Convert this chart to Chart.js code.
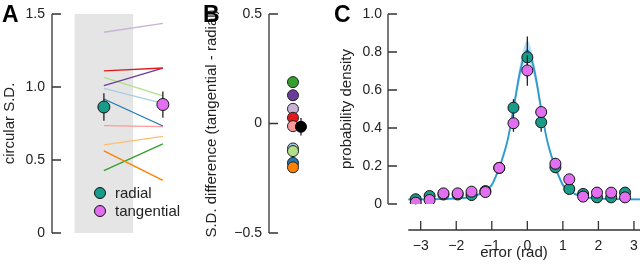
<!DOCTYPE html>
<html>
<head>
<meta charset="utf-8">
<script src="https://cdn.jsdelivr.net/npm/chart.js@4/dist/chart.umd.min.js"></script>
<style>
  body { margin:0; background:#fff; width:640px; height:267px; overflow:hidden; position:relative; }
  canvas { position:absolute; top:0; }
  .lbl { position:absolute; font-family:"Liberation Sans", Arial, sans-serif; font-weight:bold; font-size:23px; line-height:23px; color:#000; }
</style>
</head>
<body>
<canvas id="chartA" width="190" height="267" style="left:0px"></canvas>
<canvas id="chartB" width="120" height="267" style="left:190px"></canvas>
<canvas id="chartC" width="350" height="267" style="left:290px"></canvas>
<div class="lbl" style="left:2px;top:3px">A</div>
<div class="lbl" style="left:203px;top:3px">B</div>
<div class="lbl" style="left:334px;top:3px">C</div>
<script>
// ---- panel A : circular S.D. for each subject (radial -> tangential)
const pairColors   = ['#cab2d6','#e31a1c','#6a3d9a','#b2df8a','#a6cee3','#1f78b4','#fb9a99','#fdbf6f','#ff7f00','#33a02c'];
const radialSD     = [1.375, 1.11, 1.01, 1.066, 0.99, 0.918, 0.735, 0.603, 0.562, 0.427];
const tangentialSD = [1.436, 1.13, 1.13, 0.94, 0.888, 0.733, 0.728, 0.662, 0.361, 0.61];
const meanSD       = [0.863, 0.88];
const meanSDErr    = [0.095, 0.09];
const ticksA       = [0, 0.5, 1.0, 1.5];

// ---- panel B : S.D. difference per subject
const diffColors  = ['#33a02c','#6a3d9a','#cab2d6','#e31a1c','#fb9a99','#a6cee3','#b2df8a','#1f78b4','#ff7f00'];
const sdDiff      = [0.189, 0.129, 0.067, 0.026, -0.012, -0.114, -0.126, -0.18, -0.2];
const meanDiff    = -0.015;
const meanDiffErr = 0.04;
const ticksB      = [-0.5, 0, 0.5];

// ---- panel C : error distributions
const binCenters = [-3.14,-2.75,-2.36,-1.96,-1.57,-1.18,-0.79,-0.39,0,0.39,0.79,1.18,1.57,1.96,2.36,2.75];
const radialDens = [0.025,0.042,0.05,0.05,0.047,0.068,0.19,0.507,0.772,0.43,0.193,0.079,0.053,0.035,0.035,0.06];
const radialErr  = [0.01,0.01,0.01,0.01,0.01,0.012,0.025,0.045,0.11,0.05,0.03,0.015,0.01,0.01,0.01,0.01];
const tangDens   = [0.007,0.021,0.056,0.056,0.065,0.063,0.19,0.425,0.703,0.484,0.212,0.13,0.039,0.06,0.06,0.035];
const tangErr    = [0.01,0.01,0.01,0.01,0.01,0.012,0.025,0.045,0.08,0.025,0.03,0.02,0.01,0.01,0.01,0.01];
// fitted curve and its band
const fitX    = [-3.35,-2.5,-2,-1.5,-1.2,-1.0,-0.9,-0.79,-0.55,-0.39,-0.2,0,0.2,0.39,0.55,0.79,0.9,1.0,1.2,1.5,2,2.5,3.3];
const fitY    = [0.024,0.026,0.03,0.04,0.068,0.1,0.14,0.19,0.34,0.50,0.70,0.81,0.70,0.50,0.34,0.19,0.14,0.1,0.068,0.04,0.03,0.026,0.024];
const fitLow  = [0.019,0.021,0.025,0.034,0.06,0.09,0.128,0.175,0.32,0.47,0.66,0.76,0.66,0.47,0.32,0.175,0.128,0.09,0.06,0.034,0.025,0.021,0.019];
const fitHigh = [0.029,0.031,0.035,0.046,0.076,0.11,0.152,0.205,0.36,0.53,0.74,0.86,0.74,0.53,0.36,0.205,0.152,0.11,0.076,0.046,0.035,0.031,0.029];
const ticksCx = [-3,-2,-1,0,1,2,3];
const ticksCy = [0,0.2,0.4,0.6,0.8,1.0];

const teal = '#179c8a';
const magenta = '#e26ff2';
const fontFam = '"Liberation Sans", Arial, sans-serif';
const tickFont = { family: fontFam, size: 14 };
const titleFont = { family: fontFam, size: 15 };
const ink = '#222';

function fmtTick(v) {
  if (v === 0) return '0';
  return (v < 0 ? '\u2212' : '') + Math.abs(v).toFixed(1);
}
function fmtInt(v) {
  return (v < 0 ? '\u2212' : '') + Math.abs(v);
}

// vertical error bars, drawn under the markers
const errorBars = {
  id: 'errorBars',
  beforeDatasetDraw(chart, args) {
    const ds = chart.data.datasets[args.index];
    if (!ds.errors) return;
    const ctx = chart.ctx, x = chart.scales.x, y = chart.scales.y;
    ctx.save();
    ctx.strokeStyle = '#222';
    ctx.lineWidth = 1.3;
    ds.data.forEach((p, i) => {
      const px = x.getPixelForValue(p.x);
      ctx.beginPath();
      ctx.moveTo(px, y.getPixelForValue(p.y - ds.errors[i]));
      ctx.lineTo(px, y.getPixelForValue(p.y + ds.errors[i]));
      ctx.stroke();
    });
    ctx.restore();
  }
};

// axis lines with inward ticks (and a detached x axis for panel C)
const axesLines = {
  id: 'axesLines',
  afterDatasetsDraw(chart, args, opts) {
    const ctx = chart.ctx, area = chart.chartArea, x = chart.scales.x, y = chart.scales.y;
    const yt = opts.yTicks;
    ctx.save();
    ctx.strokeStyle = '#333';
    ctx.lineWidth = 1.3;
    ctx.beginPath();
    ctx.moveTo(area.left, y.getPixelForValue(yt[0]));
    ctx.lineTo(area.left, y.getPixelForValue(yt[yt.length - 1]));
    yt.forEach(v => {
      const py = y.getPixelForValue(v);
      ctx.moveTo(area.left, py);
      ctx.lineTo(area.left + opts.tick, py);
    });
    if (opts.xTicks) {
      const base = area.bottom + opts.xOffset;
      ctx.moveTo(x.getPixelForValue(opts.xStart), base);
      ctx.lineTo(area.right, base);
      opts.xTicks.forEach(v => {
        const px = x.getPixelForValue(v);
        ctx.moveTo(px, base);
        ctx.lineTo(px, base - opts.tick);
      });
    }
    ctx.stroke();
    ctx.restore();
  }
};

// little legend inside panel A
const legendA = {
  id: 'legendA',
  afterDraw(chart) {
    const ctx = chart.ctx;
    const items = [['radial', teal, 193], ['tangential', magenta, 211]];
    ctx.save();
    items.forEach(it => {
      ctx.beginPath();
      ctx.arc(100, it[2], 5.5, 0, Math.PI * 2);
      ctx.fillStyle = it[1];
      ctx.fill();
      ctx.lineWidth = 1;
      ctx.strokeStyle = '#111';
      ctx.stroke();
      ctx.fillStyle = ink;
      ctx.font = '15px ' + fontFam;
      ctx.textBaseline = 'middle';
      ctx.fillText(it[0], 115, it[2] + 1);
    });
    ctx.restore();
  }
};

function yScale(min, max, ticks, width, title, titlePad, tickLen) {
  return {
    type: 'linear', min: min, max: max,
    afterBuildTicks: s => { s.ticks = ticks.map(v => ({ value: v })); },
    afterFit: s => { s.width = width; },
    grid: { display: false, drawTicks: true, tickLength: tickLen },
    border: { display: false },
    ticks: { padding: 0, font: tickFont, color: ink, callback: fmtTick },
    title: { display: true, text: title, font: titleFont, color: ink, padding: { top: titlePad, bottom: 0 } }
  };
}

const baseOpts = {
  responsive: false,
  animation: false,
  events: []
};

// ---------- chart A
const dsA = [];
dsA.push({
  data: [{ x: 0.5, y: 1.5 }, { x: 1.5, y: 1.5 }],
  fill: 'origin', backgroundColor: '#e5e5e5', borderWidth: 0, pointRadius: 0, order: 30
});
pairColors.forEach((c, i) => {
  dsA.push({
    data: [{ x: 1, y: radialSD[i] }, { x: 2, y: tangentialSD[i] }],
    borderColor: c, borderWidth: 1.3, pointRadius: 0, fill: false, order: 20
  });
});
dsA.push({
  data: [{ x: 1, y: meanSD[0] }], errors: [meanSDErr[0]], showLine: false,
  pointRadius: 6, pointBackgroundColor: teal, pointBorderColor: '#111', pointBorderWidth: 1, order: 2
});
dsA.push({
  data: [{ x: 2, y: meanSD[1] }], errors: [meanSDErr[1]], showLine: false,
  pointRadius: 6, pointBackgroundColor: magenta, pointBorderColor: '#111', pointBorderWidth: 1, order: 1
});

new Chart(document.getElementById('chartA'), {
  type: 'line',
  data: { datasets: dsA },
  options: Object.assign({}, baseOpts, {
    layout: { autoPadding: false, padding: { top: 14, bottom: 34, left: 0, right: 0 } },
    plugins: { legend: { display: false }, tooltip: { enabled: false }, axesLines: { yTicks: ticksA, tick: 9 } },
    scales: {
      x: { type: 'linear', display: false, min: 0.12, max: 2.46 },
      y: yScale(0, 1.5, ticksA, 52, 'circular S.D.', 1, 7)
    }
  }),
  plugins: [errorBars, axesLines, legendA]
});

// ---------- chart B
new Chart(document.getElementById('chartB'), {
  type: 'line',
  data: {
    datasets: [{
      data: sdDiff.map(v => ({ x: 0.585, y: v })), showLine: false,
      pointRadius: 5.5, pointBackgroundColor: diffColors, pointBorderColor: '#222', pointBorderWidth: 1, order: 2
    }, {
      data: [{ x: 0.78, y: meanDiff }], errors: [meanDiffErr], showLine: false,
      pointRadius: 5.5, pointBackgroundColor: '#000', pointBorderColor: '#000', pointBorderWidth: 1, order: 1
    }]
  },
  options: Object.assign({}, baseOpts, {
    layout: { autoPadding: false, padding: { top: 14, bottom: 34, left: 0, right: 0 } },
    plugins: { legend: { display: false }, tooltip: { enabled: false }, axesLines: { yTicks: ticksB, tick: 9 } },
    scales: {
      x: { type: 'linear', display: false, min: 0, max: 1 },
      y: yScale(-0.5, 0.5, ticksB, 79, 'S.D. difference (tangential - radial)', 13, 7)
    }
  }),
  plugins: [errorBars, axesLines]
});

// ---------- chart C
const yC = yScale(0, 1.0, ticksCy, 98, 'probability density', 48, 6);
new Chart(document.getElementById('chartC'), {
  type: 'line',
  data: {
    datasets: [{
      data: fitX.map((x, i) => ({ x: x, y: fitLow[i] })),
      borderWidth: 0, pointRadius: 0, fill: false, cubicInterpolationMode: 'monotone', order: 10
    }, {
      data: fitX.map((x, i) => ({ x: x, y: fitHigh[i] })),
      borderWidth: 0, pointRadius: 0, fill: '-1', backgroundColor: 'rgba(120,190,225,0.5)',
      cubicInterpolationMode: 'monotone', order: 9
    }, {
      data: fitX.map((x, i) => ({ x: x, y: fitY[i] })),
      borderColor: '#2f9ad0', borderWidth: 1.8, pointRadius: 0, fill: false,
      cubicInterpolationMode: 'monotone', order: 5
    }, {
      data: binCenters.map((x, i) => ({ x: x, y: radialDens[i] })), errors: radialErr, showLine: false,
      pointRadius: 5.5, pointBackgroundColor: teal, pointBorderColor: '#111', pointBorderWidth: 1, order: 2
    }, {
      data: binCenters.map((x, i) => ({ x: x, y: tangDens[i] })), errors: tangErr, showLine: false,
      pointRadius: 5.5, pointBackgroundColor: magenta, pointBorderColor: '#111', pointBorderWidth: 1, order: 1
    }]
  },
  options: Object.assign({}, baseOpts, {
    layout: { autoPadding: false, padding: { top: 14, bottom: 0, left: 0, right: 0 } },
    plugins: {
      legend: { display: false }, tooltip: { enabled: false },
      axesLines: { yTicks: ticksCy, tick: 9, xTicks: ticksCx, xStart: -3.35, xOffset: 26 }
    },
    scales: {
      x: {
        type: 'linear', min: -3.92, max: 3.17,
        afterBuildTicks: s => { s.ticks = ticksCx.map(v => ({ value: v })); },
        afterFit: s => { s.height = 63; },
        grid: { display: false, drawTicks: true, tickLength: 34 },
        border: { display: false },
        ticks: { padding: 0, font: tickFont, color: ink, callback: fmtInt, maxRotation: 0 },
        title: { display: true, text: 'error (rad)', font: titleFont, color: ink, padding: { top: 0, bottom: 5 } }
      },
      y: yC
    }
  }),
  plugins: [errorBars, axesLines]
});
</script>
</body>
</html>
